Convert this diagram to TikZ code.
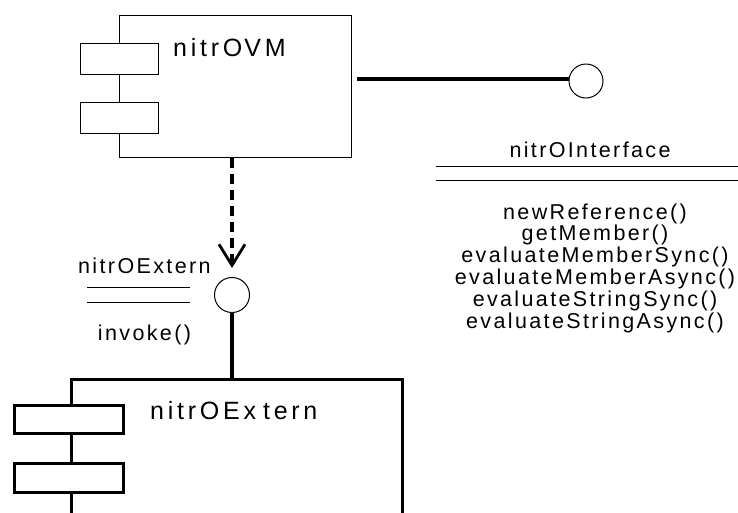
\documentclass[tikz,border=0pt]{standalone}
\usepackage{fontspec}
\setmainfont{Liberation Sans}
\newfontfamily\lsf[LetterSpace=11]{Liberation Sans}
\newfontfamily\lsfbig[LetterSpace=15]{Liberation Sans}
\usetikzlibrary{arrows.meta}
\begin{document}
\begin{tikzpicture}[x=1pt,y=-1pt,
  thinbox/.style={draw, line width=1pt, fill=white, inner sep=0pt, rectangle},
  thickbox/.style={draw, line width=3pt, fill=white, inner sep=0pt, rectangle},
  lollipop/.style={draw, circle, line width=1pt, inner sep=0pt, fill=white},
  bigtext/.style={font=\lsfbig\fontsize{25}{29}\selectfont, inner sep=0pt},
  smalltext/.style={font=\lsf\fontsize{21.5}{21.8}\selectfont, inner sep=0pt},
  wire/.style={line width=3.2pt},
  rule/.style={line width=1pt},
]
\useasboundingbox (0,0) rectangle (738,512);
\clip (0,0) rectangle (738,512);
% nitrOVM component
\node[thinbox, minimum width=232pt, minimum height=142pt] (vm) at (235,86) {};
\node[thinbox, minimum width=78pt, minimum height=31pt] (vmA) at (119,58.5) {};
\node[thinbox, minimum width=78pt, minimum height=31pt] (vmB) at (119,117.5) {};
\node[bigtext, anchor=base west] (vmlabel) at (173,56) {nitrO\kern2pt VM};
% provided interface
\node[lollipop, minimum size=34pt] (iface) at (586,81) {};
\coordinate (vmport) at (357,79);
\draw[wire] (vmport) -- (iface.west |- vmport);
\node[smalltext, anchor=base] (ifname) at (590,157) {nitrOInterface};
\coordinate (r1a) at (436,166); \coordinate (r1b) at (738,166);
\coordinate (r2a) at (436,180); \coordinate (r2b) at (738,180);
\draw[rule] (r1a) -- (r1b);
\draw[rule] (r2a) -- (r2b);
\node[smalltext, align=center] (ifops) at (595,268) {newReference()\\getMember()\\evaluateMemberSync()\\evaluateMemberAsync()\\evaluateStringSync()\\evaluateStringAsync()};
% nitrOExtern interface
\node[lollipop, minimum size=35pt] (ext) at (232,295) {};
\draw[wire, dash pattern=on 10pt off 6pt, -{Straight Barb[length=21pt,width=26pt,line width=2.8pt]}] (vm.south -| ext) -- ([yshift=9pt]ext.north);
\node[smalltext, anchor=base west] (extname) at (78,273) {nitrOExtern};
\coordinate (e1a) at (87,287); \coordinate (e1b) at (190,287);
\coordinate (e2a) at (87,302); \coordinate (e2b) at (190,302);
\draw[rule] (e1a) -- (e1b);
\draw[rule] (e2a) -- (e2b);
\node[smalltext, anchor=base] (extop) at (144.5,340) {invoke()};
% nitrOExtern component
\node[thickbox, minimum width=331pt, minimum height=200pt, anchor=north west] (ebox) at (70,378) {};
\draw[wire] (ext) -- (ext |- ebox.north);
\node[thickbox, minimum width=109pt, minimum height=28pt] (eA) at (68.5,419) {};
\node[thickbox, minimum width=109pt, minimum height=29pt] (eB) at (68.5,477.5) {};
\node[bigtext, anchor=base west] (elabel) at (150,419) {nitrOEx\kern7pt tern};
\end{tikzpicture}
\end{document}
